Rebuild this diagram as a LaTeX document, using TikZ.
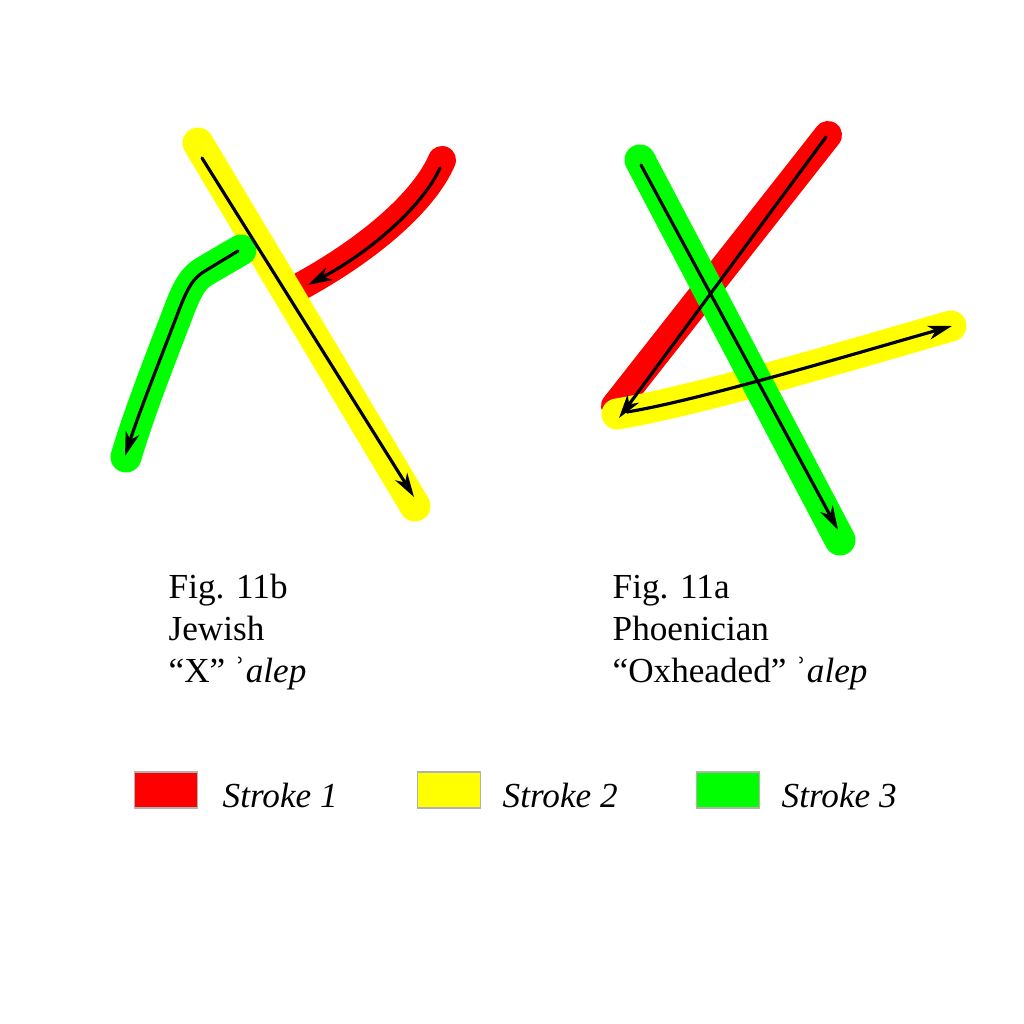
\documentclass[tikz,border=0pt]{standalone}
\usepackage{fontspec}
\setmainfont{Liberation Serif}
\usetikzlibrary{arrows.meta}
\definecolor{strokered}{RGB}{255,0,0}
\definecolor{strokeyellow}{RGB}{255,255,0}
\definecolor{strokegreen}{RGB}{0,255,0}
\tikzset{
    strokeband/.style={line width=0.31cm, line cap=round, line join=round},
    strokearrow/.style={-{Stealth[length=0.24cm, width=0.14cm, inset=0.07cm]}, line width=0.9pt, line cap=round},
    keybox/.style={draw=gray!60, minimum width=0.63cm, minimum height=0.36cm, inner sep=0pt},
    figtext/.style={anchor=base west, inner sep=0pt, font=\fontsize{10}{12}\selectfont}
}

\begin{document}
\begin{tikzpicture}[x=0.01cm, y=-0.01cm]
    \useasboundingbox (0,0) rectangle (1024,1024);

    \draw[strokeband, strokered, line width=0.28cm] (442,160) .. controls (425,200) and (370,250) .. (290,292);
    \draw[strokeband, strokeyellow] (198,143) -- (415,506);
    \draw[strokeband, strokegreen] (241,250) -- (205,271) .. controls (193,278) and (188,288) .. (181,305) .. controls (160,360) and (140,410) .. (126,457);

    \draw[strokearrow] (440,168) .. controls (423,206) and (370,252) .. (308,285);
    \draw[strokearrow] (202,158) -- (414,497);
    \draw[strokearrow] (238,251) -- (205,271) .. controls (193,278) and (188,288) .. (181,305) .. controls (160,360) and (140,410) .. (125,456);

    \draw[strokeband, strokered, line width=0.28cm] (828,135) -- (615,406);
    \draw[strokeband, strokeyellow] (617,414) .. controls (700,400) and (850,355) .. (951,326);
    \draw[strokeband, strokegreen] (640,160) -- (840,540);

    \draw[strokearrow] (826,137) -- (619,418);
    \draw[strokearrow] (627,412) .. controls (700,400) and (850,355) .. (952,326);
    \draw[strokearrow] (641,165) -- (838,530);

    \node[figtext] (figb) at (168,598) {Fig. 11b};
    \node[figtext] (figbname) at (168,640) {Jewish};
    \node[figtext] (figbalep) at (168,682) {“X” ʾ\textit{alep}};
    \node[figtext] (figa) at (612,598) {Fig. 11a};
    \node[figtext] (figaname) at (612,640) {Phoenician};
    \node[figtext] (figaalep) at (612,682) {“Oxheaded” ʾ\textit{alep}};

    \node[keybox, fill=strokered] (keyone) at (166,790) {};
    \node[keybox, fill=strokeyellow] (keytwo) at (449,790) {};
    \node[keybox, fill=strokegreen] (keythree) at (728,790) {};
    \node[figtext] (keyonetext) at (222,807) {\textit{Stroke 1}};
    \node[figtext] (keytwotext) at (502,807) {\textit{Stroke 2}};
    \node[figtext] (keythreetext) at (781,807) {\textit{Stroke 3}};
\end{tikzpicture}
\end{document}
